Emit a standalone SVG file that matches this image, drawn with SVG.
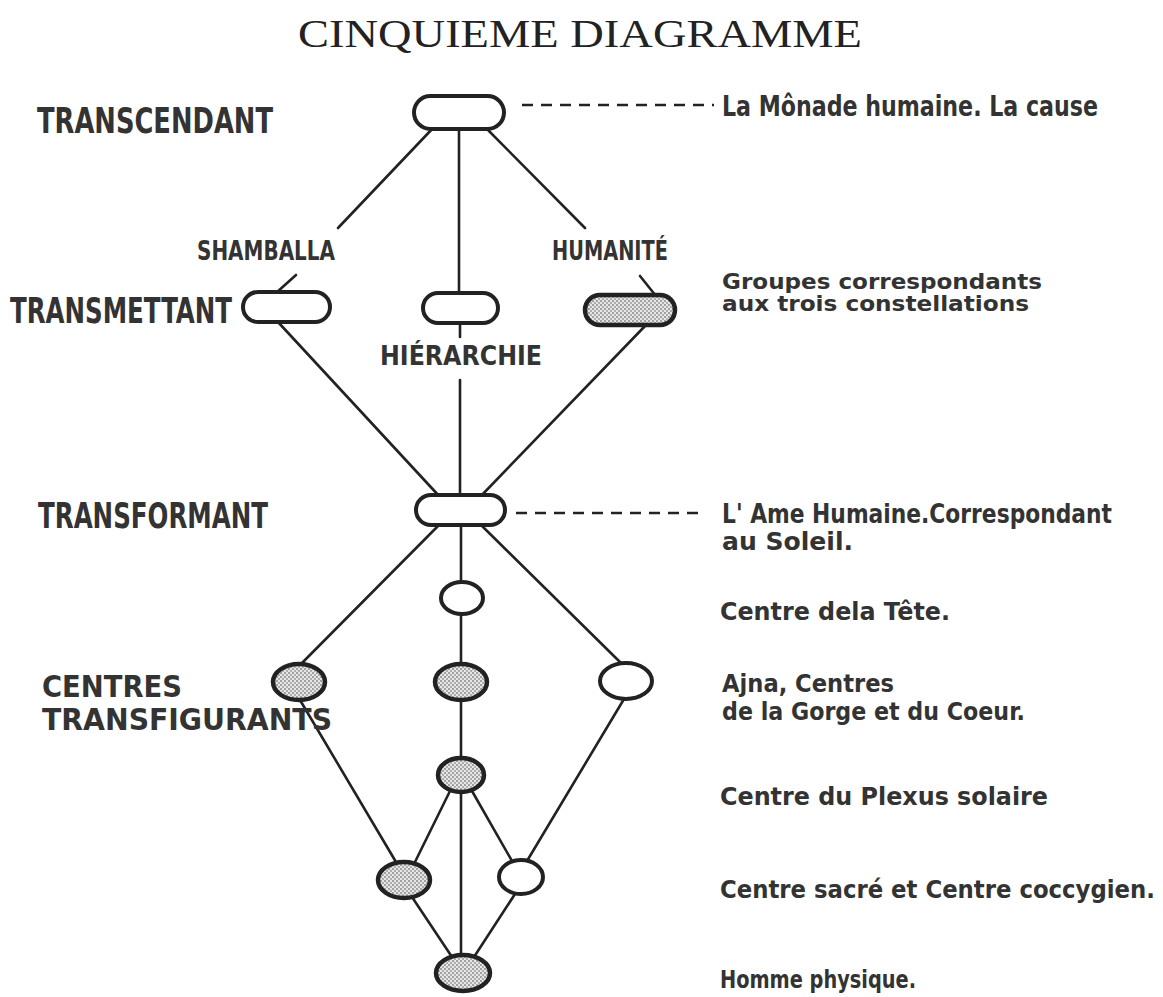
<svg xmlns="http://www.w3.org/2000/svg" width="1163" height="997" viewBox="0 0 1163 997">
<defs>
<pattern id="dots" width="4" height="4" patternUnits="userSpaceOnUse">
<rect width="4" height="4" fill="#e6e6e6"/>
<circle cx="1" cy="1" r="1" fill="#8a8a8a"/>
<circle cx="3" cy="3" r="1" fill="#9a9a9a"/>
</pattern>
</defs>
<style>
.title{font-family:"Liberation Serif",serif;font-size:40px;fill:#222}
.big{font-family:"DejaVu Sans Condensed","DejaVu Sans",sans-serif;font-weight:bold;font-size:36px;fill:#333}
.mid{font-family:"DejaVu Sans Condensed","DejaVu Sans",sans-serif;font-weight:bold;font-size:26px;fill:#333}
.lab{font-family:"DejaVu Sans Condensed","DejaVu Sans",sans-serif;font-weight:bold;font-size:25px;fill:#333}
.n{fill:#fff;stroke:#222;stroke-width:4}
.s{fill:url(#dots);stroke:#222;stroke-width:4.5}
.c{stroke:#222;stroke-width:2.6;fill:none;stroke-linecap:round}
.d{stroke:#222;stroke-width:2.6;fill:none;stroke-dasharray:11 8}
</style>
<rect width="1163" height="997" fill="#fff"/>
<text class="title" x="298" y="47" textLength="564" lengthAdjust="spacingAndGlyphs">CINQUIEME DIAGRAMME</text>

<g id="connectors">
<line class="c" x1="434" y1="127" x2="338" y2="228"/>
<line class="c" x1="459" y1="130" x2="459" y2="295"/>
<line class="c" x1="485" y1="127" x2="585" y2="228"/>
<line class="c" x1="296" y1="275" x2="276" y2="293"/>
<line class="c" x1="640" y1="276" x2="656" y2="296"/>
<line class="c" x1="460" y1="323" x2="460" y2="337"/>
<line class="c" x1="460" y1="380" x2="460" y2="495"/>
<line class="c" x1="278" y1="322" x2="440" y2="497"/>
<line class="c" x1="646" y1="325" x2="480" y2="497"/>
<line class="c" x1="440" y1="524" x2="300" y2="665"/>
<line class="c" x1="461" y1="525" x2="461" y2="955"/>
<line class="c" x1="480" y1="524" x2="622" y2="664"/>
<line class="c" x1="300" y1="700" x2="396" y2="862"/>
<line class="c" x1="450" y1="791" x2="414" y2="864"/>
<line class="c" x1="472" y1="791" x2="512" y2="861"/>
<line class="c" x1="624" y1="699" x2="527" y2="861"/>
<line class="c" x1="412" y1="897" x2="452" y2="957"/>
<line class="c" x1="515" y1="894" x2="474" y2="957"/>
<line class="d" x1="522" y1="105" x2="714" y2="105"/>
<line class="d" x1="516" y1="513" x2="702" y2="513"/>
</g>

<g id="transcendant-node"><rect class="n" x="414" y="96" width="90" height="33" rx="16.5"/></g>
<g id="shamballa-node"><rect class="n" x="243" y="292" width="87" height="30" rx="15"/></g>
<g id="hierarchie-node"><rect class="n" x="423" y="293" width="75" height="30" rx="15"/></g>
<g id="humanite-node"><rect class="s" x="585" y="295" width="90" height="30" rx="15"/></g>
<g id="transformant-node"><rect class="n" x="416" y="495" width="89" height="30" rx="15"/></g>
<g id="tete-node"><ellipse class="n" cx="462" cy="598" rx="21" ry="16"/></g>
<g id="ajna-left-node"><ellipse class="s" cx="299" cy="682" rx="26" ry="18"/></g>
<g id="ajna-mid-node"><ellipse class="s" cx="461" cy="682" rx="26" ry="18"/></g>
<g id="ajna-right-node"><ellipse class="n" cx="626" cy="681" rx="26" ry="18"/></g>
<g id="plexus-node"><ellipse class="s" cx="461" cy="775" rx="23" ry="17"/></g>
<g id="sacre-node"><ellipse class="s" cx="404" cy="880" rx="26" ry="18"/></g>
<g id="coccyx-node"><ellipse class="n" cx="521" cy="877" rx="22" ry="17"/></g>
<g id="physique-node"><ellipse class="s" cx="463" cy="973" rx="27" ry="18"/></g>

<g id="left-labels">
<text class="big" x="37" y="133" textLength="236" lengthAdjust="spacingAndGlyphs">TRANSCENDANT</text>
<text class="big" x="10" y="323" textLength="222" lengthAdjust="spacingAndGlyphs">TRANSMETTANT</text>
<text class="big" x="38" y="528" textLength="230" lengthAdjust="spacingAndGlyphs">TRANSFORMANT</text>
<text class="big" x="42" y="697" style="font-size:31px" textLength="140" lengthAdjust="spacingAndGlyphs">CENTRES</text>
<text class="big" x="42" y="730" style="font-size:31px" textLength="290" lengthAdjust="spacingAndGlyphs">TRANSFIGURANTS</text>
<text class="mid" x="197" y="260" textLength="138" lengthAdjust="spacingAndGlyphs">SHAMBALLA</text>
<text class="mid" x="552" y="260" textLength="116" lengthAdjust="spacingAndGlyphs">HUMANITÉ</text>
<text class="mid" x="380" y="365" textLength="162" lengthAdjust="spacingAndGlyphs">HIÉRARCHIE</text>
</g>

<g id="right-labels">
<text class="lab" x="722" y="116" style="font-size:28px" textLength="376" lengthAdjust="spacingAndGlyphs">La Mônade humaine. La cause</text>
<text class="lab" x="722" y="289" style="font-size:21px" textLength="320" lengthAdjust="spacingAndGlyphs">Groupes correspondants</text>
<text class="lab" x="722" y="311" style="font-size:21px" textLength="307" lengthAdjust="spacingAndGlyphs">aux trois constellations</text>
<text class="lab" x="722" y="523" style="font-size:26px" textLength="390" lengthAdjust="spacingAndGlyphs">L' Ame Humaine.Correspondant</text>
<text class="lab" x="722" y="550" textLength="131" lengthAdjust="spacingAndGlyphs">au Soleil.</text>
<text class="lab" x="720" y="620" textLength="230" lengthAdjust="spacingAndGlyphs">Centre dela Tête.</text>
<text class="lab" x="722" y="692" textLength="172" lengthAdjust="spacingAndGlyphs">Ajna, Centres</text>
<text class="lab" x="722" y="720" textLength="303" lengthAdjust="spacingAndGlyphs">de la Gorge et du Coeur.</text>
<text class="lab" x="720" y="805" textLength="328" lengthAdjust="spacingAndGlyphs">Centre du Plexus solaire</text>
<text class="lab" x="720" y="898" textLength="435" lengthAdjust="spacingAndGlyphs">Centre sacré et Centre coccygien.</text>
<text class="lab" x="720" y="988" style="font-size:24px" textLength="196" lengthAdjust="spacingAndGlyphs">Homme physique.</text>
</g>
</svg>
